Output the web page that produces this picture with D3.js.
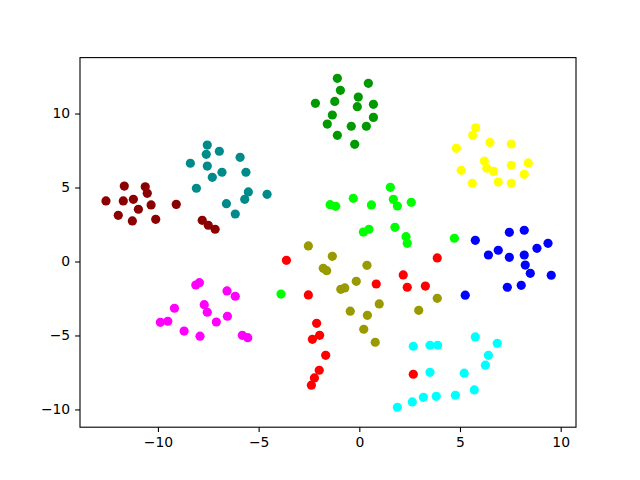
<!DOCTYPE html>
<html>
<head>
<meta charset="utf-8">
<script src="https://d3js.org/d3.v7.min.js"></script>
<style>
  body { margin: 0; background: #fff; }
  .tick text { font-family: "DejaVu Sans", sans-serif; font-size: 13.9px; fill: #000; }
</style>
</head>
<body>
<div class="canvas"></div>
<script>
const groupColors = ["#8b0000", "#008b8b", "#009900", "#ffff00", "#00ff00",
                     "#ff0000", "#999900", "#0000ff", "#ff00ff", "#00ffff"];

const darkredPts = [[-12.58,4.09],[-11.67,5.10],[-10.63,5.05],[-10.53,4.61],[-11.72,4.09],
  [-11.22,4.20],[-10.34,3.82],[-10.97,3.53],[-11.97,3.12],[-11.27,2.74],
  [-10.11,2.85],[-9.09,3.86],[-7.80,2.78],[-7.50,2.45],[-7.16,2.18]];
const tealPts = [[-7.55,7.87],[-7.60,7.24],[-6.95,7.45],[-5.92,7.04],[-8.39,6.64],
  [-7.55,6.45],[-6.82,6.03],[-5.63,6.03],[-7.30,5.69],[-8.09,4.95],
  [-5.51,4.70],[-5.69,4.20],[-4.58,4.54],[-6.60,3.91],[-6.16,3.21]];
const greenPts = [[-1.09,12.38],[0.45,12.04],[-0.94,11.57],[-0.05,11.11],[-2.18,10.69],
  [-1.22,10.82],[-0.10,10.46],[0.70,10.62],[-1.34,9.90],[0.70,9.74],
  [-1.59,9.29],[-0.40,9.14],[0.35,9.14],[-1.09,8.53],[-0.23,7.92]];
const yellowPts = [[5.78,9.04],[5.63,8.53],[4.82,7.65],[6.49,8.05],[7.55,7.94],
  [6.21,6.79],[7.55,6.50],[8.39,6.66],[6.33,6.30],[6.67,6.09],
  [5.06,6.16],[8.19,5.89],[5.61,5.28],[6.90,5.37],[7.55,5.28]];
const limePts = [[1.54,5.01],[-0.30,4.27],[1.69,4.20],[2.58,4.00],[-1.45,3.84],
  [-1.17,3.73],[0.60,3.82],[1.89,3.75],[0.48,2.18],[0.20,1.99],
  [1.77,2.31],[2.32,1.68],[2.38,1.23],[4.72,1.57],[-3.89,-2.20]];
const redPts = [[-3.62,0.08],[3.87,0.24],[2.18,-0.91],[0.84,-1.52],[2.38,-1.74],
  [3.28,-1.66],[-2.53,-2.26],[-2.12,-4.18],[-1.97,-4.99],[-2.33,-5.26],
  [-1.67,-6.34],[-1.99,-7.35],[-2.23,-7.87],[-2.38,-8.36],[2.68,-7.62]];
const olivePts = [[-2.53,1.05],[-1.34,0.35],[0.38,-0.26],[-1.79,-0.46],[-1.62,-0.62],
  [-0.15,-1.34],[-0.92,-1.88],[-0.72,-1.79],[3.87,-2.49],[0.99,-2.87],
  [-0.45,-3.36],[0.40,-3.64],[2.95,-3.30],[0.22,-4.58],[0.79,-5.46]];
const bluePts = [[5.76,1.43],[7.45,1.97],[8.19,2.11],[6.41,0.44],[6.90,0.76],
  [7.45,0.28],[8.19,0.44],[8.82,0.89],[9.37,1.23],[8.24,-0.24],
  [8.49,-0.80],[9.53,-0.93],[7.35,-1.74],[8.04,-1.61],[5.26,-2.28]];
const magentaPts = [[-8.12,-1.59],[-7.94,-1.43],[-6.57,-1.99],[-6.16,-2.35],[-9.18,-3.16],
  [-7.70,-2.92],[-7.55,-3.43],[-9.88,-4.11],[-9.51,-4.04],[-6.55,-3.70],
  [-7.10,-4.09],[-8.70,-4.70],[-7.91,-5.05],[-5.81,-4.99],[-5.54,-5.15]];
const cyanPts = [[2.68,-5.73],[3.51,-5.66],[3.89,-5.66],[5.76,-5.10],[6.85,-5.53],
  [6.41,-6.34],[6.26,-7.01],[3.51,-7.49],[5.21,-7.55],[5.71,-8.68],
  [4.77,-9.04],[3.82,-9.11],[3.18,-9.18],[2.63,-9.49],[1.89,-9.85]];

const groups = [darkredPts, tealPts, greenPts, yellowPts, limePts,
                redPts, olivePts, bluePts, magentaPts, cyanPts];

const xTicks = [-10, -5, 0, 5, 10];
const yTicks = [-10, -5, 0, 5, 10];

const dims = { width: 640, height: 480 };
const margin = { left: 80, right: 64, top: 57.6, bottom: 52.8 };

const svg = d3.select(".canvas")
  .append("svg")
  .attr("width", dims.width)
  .attr("height", dims.height);

const x = d3.scaleLinear().domain([-13.87, 10.76]).range([margin.left, dims.width - margin.right]);
const y = d3.scaleLinear().domain([-11.2, 13.78]).range([dims.height - margin.bottom, margin.top]);

const fmt = (d) => (d < 0 ? "\u2212" + Math.abs(d) : "" + d);

const graph = svg.append("g");

groups.forEach((pts, i) => {
  graph.selectAll(null)
    .data(pts)
    .enter()
    .append("circle")
    .attr("cx", (d) => x(d[0]))
    .attr("cy", (d) => y(d[1]))
    .attr("r", 4.6)
    .attr("fill", groupColors[i]);
});

const xAxis = svg.append("g")
  .attr("transform", `translate(0, ${dims.height - margin.bottom})`)
  .call(d3.axisBottom(x).tickValues(xTicks).tickFormat(fmt).tickSize(4.9).tickPadding(4.9));

const yAxis = svg.append("g")
  .attr("transform", `translate(${margin.left}, 0)`)
  .call(d3.axisLeft(y).tickValues(yTicks).tickFormat(fmt).tickSize(4.9).tickPadding(4.9));

[xAxis, yAxis].forEach((ax) => {
  ax.select(".domain").remove();
  ax.selectAll(".tick line").attr("stroke", "#000").attr("stroke-width", 1.1);
});

svg.append("rect")
  .attr("x", margin.left)
  .attr("y", margin.top)
  .attr("width", dims.width - margin.left - margin.right)
  .attr("height", dims.height - margin.top - margin.bottom)
  .attr("fill", "none")
  .attr("stroke", "#000")
  .attr("stroke-width", 1.1);
</script>
</body>
</html>
